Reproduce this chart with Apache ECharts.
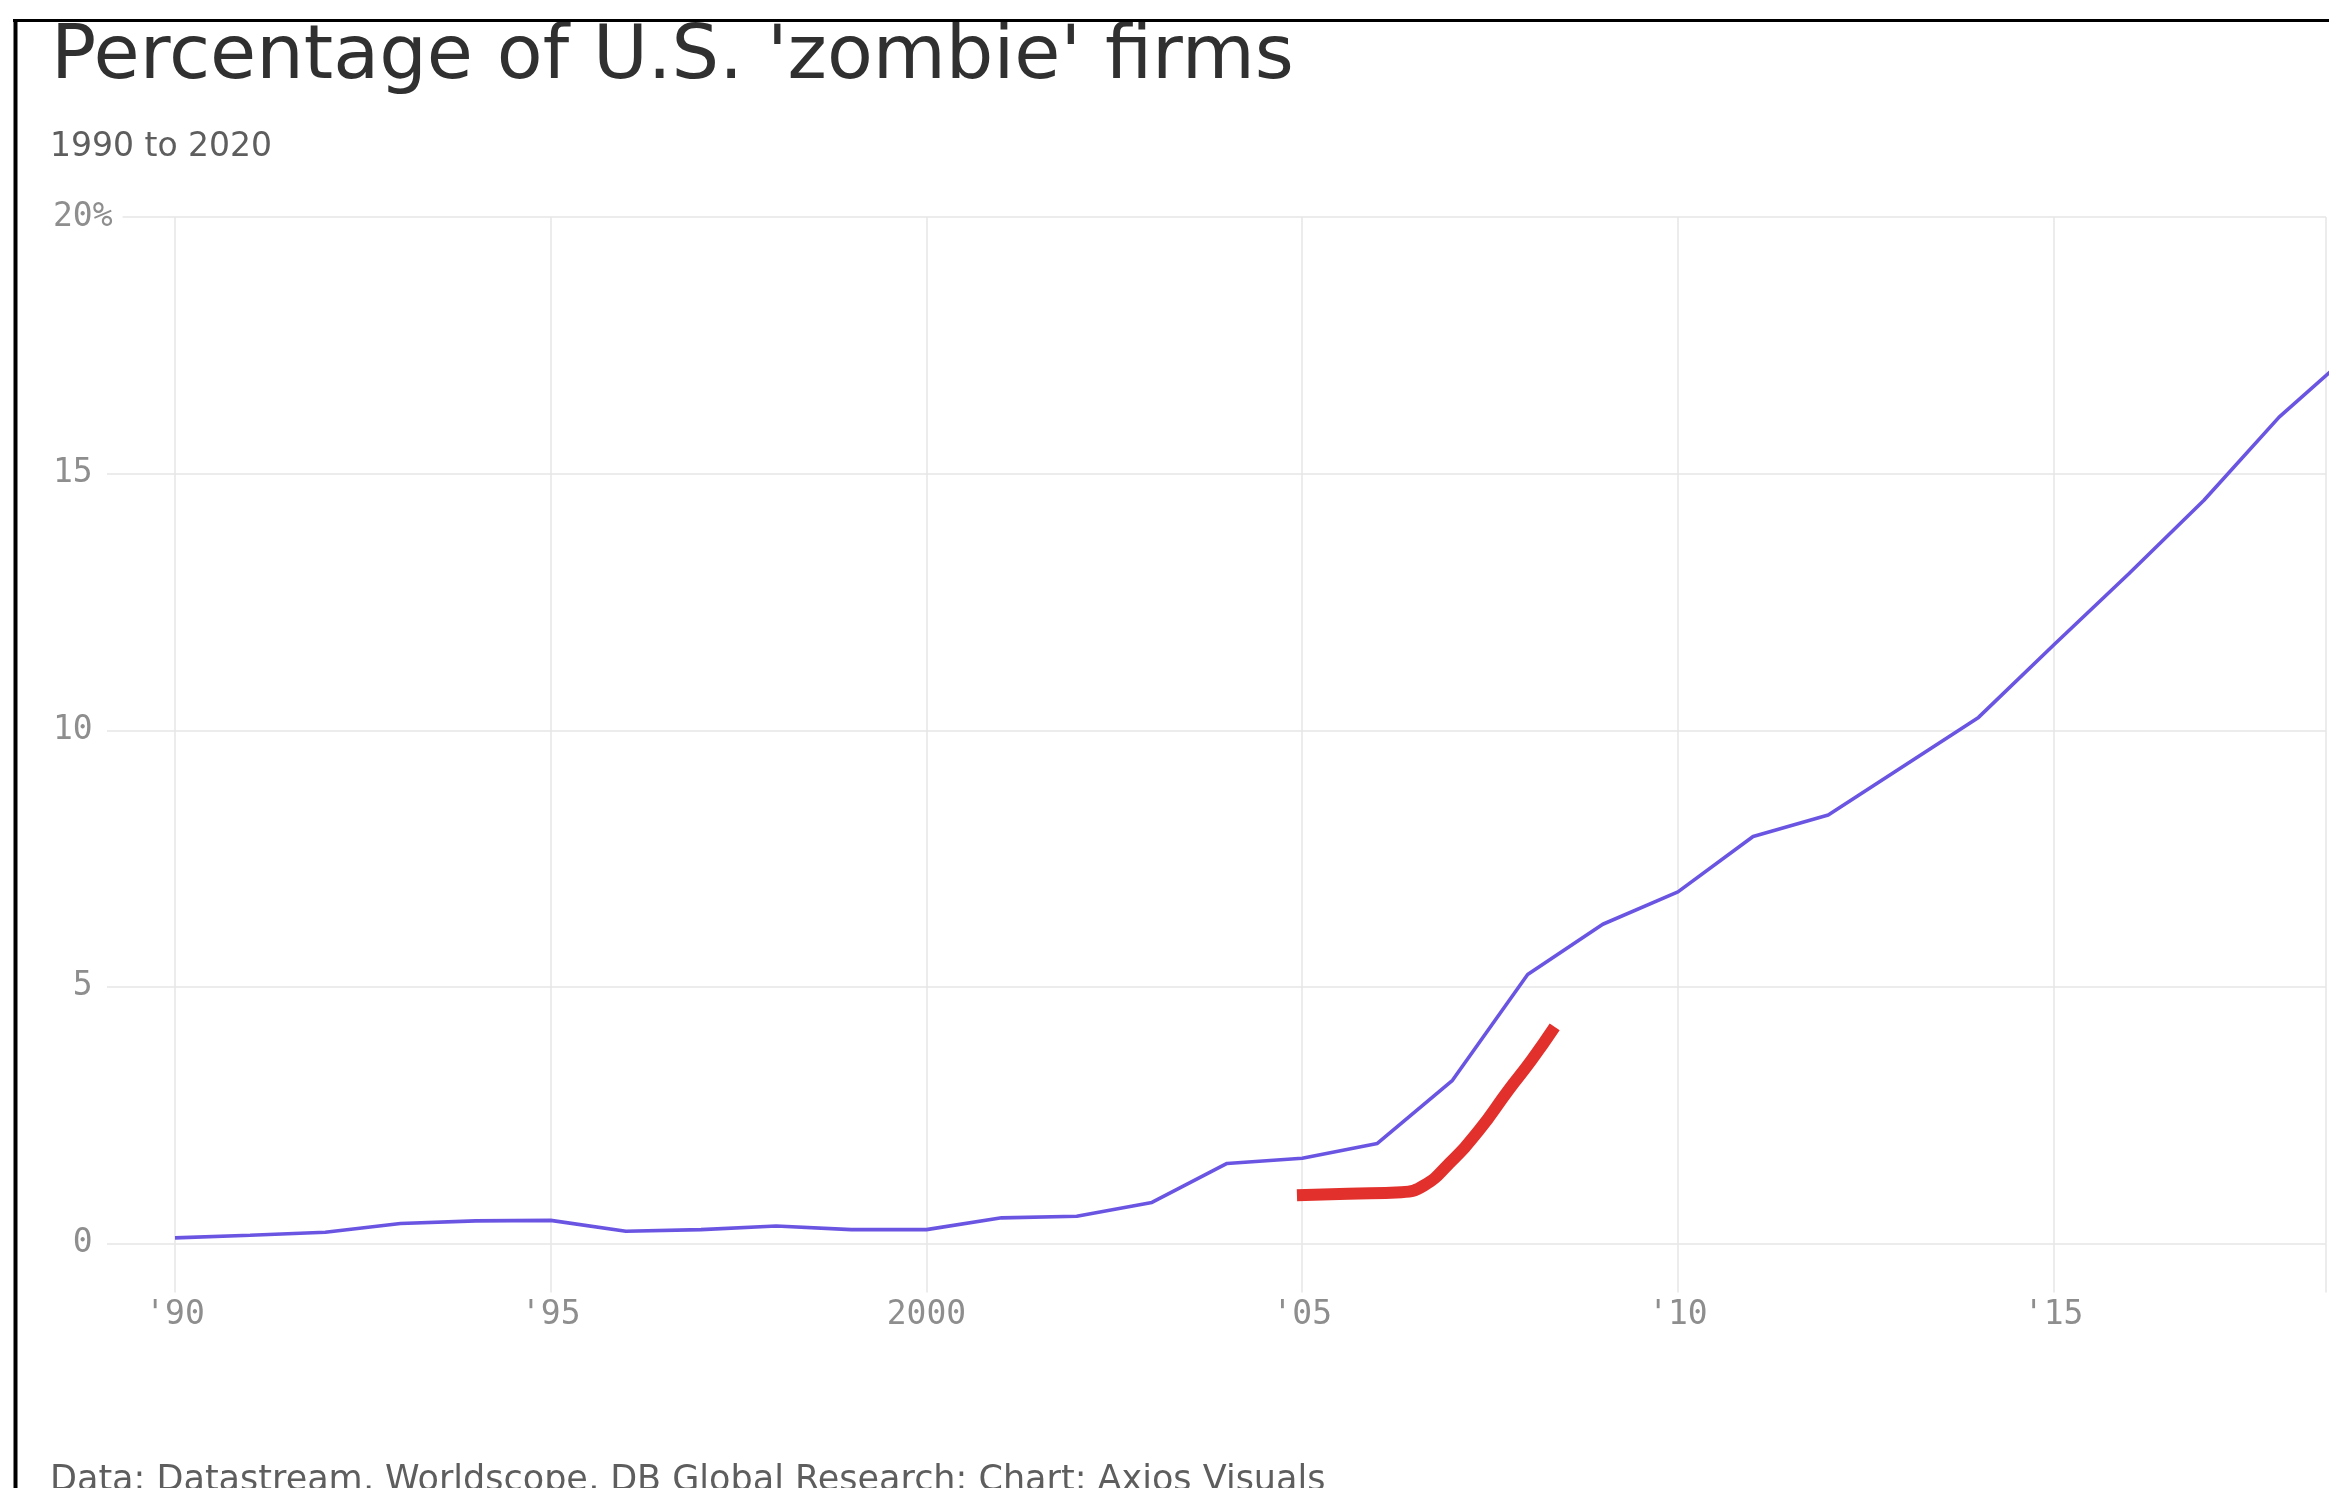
<!DOCTYPE html>
<html>
<head>
<meta charset="utf-8">
<script src="https://cdn.jsdelivr.net/npm/echarts@6/dist/echarts.min.js"></script>
<style>
html,body{margin:0;padding:0;background:#fff;}
#chart{width:2329px;height:1488px;}
</style>
</head>
<body>
<div id="chart"></div>
<script>
// ---- data ----
var years = [1990,1991,1992,1993,1994,1995,1996,1997,1998,1999,2000,2001,2002,2003,2004,2005,2006,2007,2008,2009,2010,2011,2012,2013,2014,2015,2016,2017,2018,2019];
var zombieShare = [0.11,0.16,0.22,0.39,0.44,0.45,0.24,0.27,0.34,0.27,0.27,0.50,0.53,0.80,1.56,1.66,1.95,3.18,5.24,6.22,6.85,7.93,8.35,9.30,10.25,11.66,13.05,14.48,16.10,17.40];
// hand-drawn red annotation stroke (x in years, y in %)
var annotX = [2004.93,2005.61,2006.32,2006.62,2006.95,2007.35,2007.74,2008.05,2008.36];
var annotY = [0.94,0.97,1.00,1.13,1.55,2.20,2.98,3.57,4.22];
var yTicks = [0,5,10,15,20];
var xTickLabels = {1990:"'90",1995:"'95",2000:"2000",2005:"'05",2010:"'10",2015:"'15",2020:"'20"};
var titleText = "Percentage of U.S. 'zombie' firms";
var subtitleText = "1990 to 2020";
var sourceText = "Data: Datastream, Worldscope, DB Global Research; Chart: Axios Visuals";

var mainData = years.map(function(y,i){return [y, zombieShare[i]];});
var annotData = annotX.map(function(x,i){return [x, annotY[i]];});

var gridColor = '#e6e6e6';
var labelColor = '#8e8e8e';
var monoFont = '"DejaVu Sans Mono", "Liberation Mono", monospace';
var sansFont = '"DejaVu Sans", "Noto Sans", sans-serif';

var chart = echarts.init(document.getElementById('chart'), null, {renderer:'canvas'});
chart.setOption({
  backgroundColor: '#ffffff',
  animation: false,
  title: [
    {text: titleText, left: 46, top: 16,
     textStyle:{fontFamily: sansFont, fontSize: 75, fontWeight: 'normal', color:'#303030'}},
    {text: subtitleText, left: 45, top: 126,
     textStyle:{fontFamily: sansFont, fontSize: 33, fontWeight: 'normal', color:'#5e5e5e'}},
    {text: sourceText, left: 45, top: 1458,
     textStyle:{fontFamily: sansFont, fontSize: 35, fontWeight: 'normal', color:'#5e5e5e'}}
  ],
  grid: {left: 175, right: 0, top: 217, bottom: 244.5, containLabel: false},
  xAxis: {
    type: 'value', min: 1990, max: 2018.624, interval: 5,
    axisLine: {show: false},
    axisTick: {show: true, length: 49, lineStyle: {color: gridColor, width: 1.5}},
    splitLine: {show: true, lineStyle: {color: gridColor, width: 1.5}},
    axisLabel: {
      margin: 55, color: labelColor, fontFamily: monoFont, fontSize: 33,
      formatter: function(v){ return xTickLabels[Math.round(v)] && Math.abs(v-Math.round(v))<1e-6 ? xTickLabels[Math.round(v)] : ''; }
    }
  },
  yAxis: {
    type: 'value', min: 0, max: 20, interval: 5,
    axisLine: {show: false},
    axisTick: {show: true, length: 68, lineStyle: {color: gridColor, width: 1.5}},
    splitLine: {show: true, lineStyle: {color: gridColor, width: 1.5}},
    axisLabel: {
      align: 'left', margin: 122, color: labelColor, fontFamily: monoFont, fontSize: 33,
      formatter: function(v){
        if (v === 20) return '{pct|20%}';
        return '{n|' + (v < 10 ? ' ' + v : '' + v) + '}';
      },
      rich: {
        pct: {color: labelColor, fontFamily: monoFont, fontSize: 33, backgroundColor:'#ffffff', padding:[2,10,2,0]},
        n: {color: labelColor, fontFamily: monoFont, fontSize: 33, backgroundColor:'#ffffff', padding:[2,6,2,0]}
      }
    }
  },
  series: [
    {type:'line', name:'Zombie firms', data: mainData, showSymbol:false, symbol:'none',
     lineStyle:{color:'#6a55e3', width:3.6}, clip:true, z:3},
    {type:'line', name:'annotation', data: annotData, showSymbol:false, symbol:'none', smooth:0.5,
     lineStyle:{color:'#e2302c', width:12, cap:'butt'}, z:4}
  ],
  graphic: [
    {type:'line', shape:{x1:15.5, y1:20, x2:15.5, y2:1500}, style:{stroke:'#000', lineWidth:4}, z:100},
    {type:'line', shape:{x1:13, y1:20.5, x2:2340, y2:20.5}, style:{stroke:'#000', lineWidth:3}, z:100}
  ]
});
</script>
</body>
</html>
